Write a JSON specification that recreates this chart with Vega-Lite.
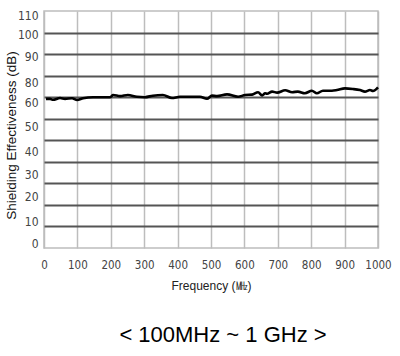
{
  "$schema": "https://vega.github.io/schema/vega-lite/v6.json",
  "width": 334,
  "height": 237,
  "autosize": "none",
  "padding": {"left": 44, "top": 11, "right": 22, "bottom": 108},
  "background": "white",
  "config": {"view": {"stroke": "#bdbdbd", "strokeWidth": 1.5}, "font": "Liberation Sans"},
  "title": {"text": "< 100MHz ~ 1 GHz >", "orient": "bottom", "fontSize": 22, "fontWeight": "normal", "font": "Liberation Sans", "color": "#000", "offset": 33, "dx": 12},
  "data": {"values": [
    {"freq": 6, "se": 69.2}, {"freq": 18, "se": 69.2}, {"freq": 27, "se": 68.8}, {"freq": 48, "se": 69.6},
    {"freq": 63, "se": 69.2}, {"freq": 84, "se": 69.5}, {"freq": 99, "se": 68.7}, {"freq": 117, "se": 69.5},
    {"freq": 147, "se": 70.0}, {"freq": 198, "se": 70.0}, {"freq": 207, "se": 71.0}, {"freq": 228, "se": 70.5},
    {"freq": 251, "se": 71.0}, {"freq": 278, "se": 70.2}, {"freq": 302, "se": 70.0}, {"freq": 326, "se": 70.7},
    {"freq": 356, "se": 71.0}, {"freq": 383, "se": 69.6}, {"freq": 407, "se": 70.2}, {"freq": 437, "se": 70.2},
    {"freq": 467, "se": 70.2}, {"freq": 488, "se": 69.3}, {"freq": 503, "se": 70.7}, {"freq": 518, "se": 70.5},
    {"freq": 548, "se": 71.3}, {"freq": 581, "se": 70.2}, {"freq": 602, "se": 71.0}, {"freq": 623, "se": 71.2},
    {"freq": 641, "se": 72.3}, {"freq": 653, "se": 70.8}, {"freq": 662, "se": 71.8}, {"freq": 668, "se": 71.6},
    {"freq": 683, "se": 72.6}, {"freq": 698, "se": 72.1}, {"freq": 722, "se": 73.2}, {"freq": 743, "se": 72.3},
    {"freq": 760, "se": 72.6}, {"freq": 781, "se": 71.8}, {"freq": 802, "se": 73.0}, {"freq": 817, "se": 71.8},
    {"freq": 835, "se": 73.0}, {"freq": 862, "se": 73.0}, {"freq": 877, "se": 73.3}, {"freq": 901, "se": 74.1},
    {"freq": 925, "se": 73.8}, {"freq": 946, "se": 73.3}, {"freq": 961, "se": 72.6}, {"freq": 976, "se": 73.3},
    {"freq": 985, "se": 72.9}, {"freq": 1000, "se": 74.6}
  ]},
  "encoding": {
    "x": {"field": "freq", "type": "quantitative", "scale": {"domain": [0, 1000], "nice": false},
      "axis": {"values": [0, 100, 200, 300, 400, 500, 600, 700, 800, 900, 1000], "format": "d", "labelOverlap": false, "labelFlush": false,
        "grid": true, "gridColor": "#bdbdbd", "gridWidth": 1.5,
        "domain": false, "ticks": false, "labelPadding": 11, "labelFont": "DejaVu Sans Condensed", "labelFontSize": 11.5, "labelColor": "#444",
        "title": "Frequency (㎒)", "titleFontWeight": "normal", "titleFontSize": 12, "titleColor": "#222", "titlePadding": 10}}
  },
  "layer": [
    {
      "mark": {"type": "line", "color": "#000", "strokeWidth": 2.6, "interpolate": "monotone"},
      "encoding": {
        "y": {"field": "se", "type": "quantitative", "scale": {"domain": [0, 110], "nice": false},
          "axis": {"values": [10, 20, 30, 40, 50, 60, 70, 80, 90, 100], "grid": true, "gridColor": "#555", "gridWidth": 2,
            "labels": false, "ticks": false, "domain": false, "title": null}}
      }
    },
    {
      "mark": {"type": "line", "opacity": 0},
      "encoding": {
        "y": {"field": "se", "type": "quantitative",
          "axis": {"orient": "left", "values": [2.3, 12.1, 23.7, 33.9, 45, 56.2, 67.3, 77, 88.7, 98.9, 108.1],
            "labelExpr": "['0','10','20','30','40','50','60','80','90','100','110'][round((datum.value-2.3)/10.58)]",
            "grid": false, "ticks": false, "domain": false, "labelPadding": 6, "labelFont": "DejaVu Sans Condensed", "labelFontSize": 12, "labelColor": "#444",
            "title": "Shielding Effectiveness (dB)", "titleFontWeight": "normal", "titleFontSize": 13.5, "titleColor": "#111",
            "titleX": -33, "titleY": 124, "titleBaseline": "middle", "titleAnchor": "middle"}}
      }
    }
  ],
  "resolve": {"axis": {"y": "independent"}}
}
